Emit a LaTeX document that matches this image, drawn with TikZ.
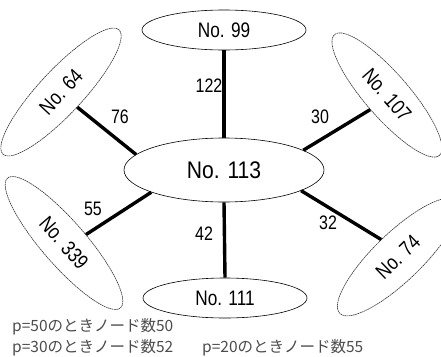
\documentclass[tikz,border=0pt]{standalone}
\usepackage{fontspec}
\usepackage{graphicx}
\setmainfont{Liberation Sans}
\newfontfamily\jpfont{Noto Sans CJK JP}
\usetikzlibrary{shapes.geometric}
\newcommand{\nar}[2][0.82]{\scalebox{#1}[1]{#2}}
\tikzset{
  upright/.style={ellipse, draw=black, line width=0.6pt, inner sep=0pt, font=\fontsize{21}{21}\selectfont},
  tilted/.style={ellipse, draw=black!80, line width=0.6pt, dash pattern=on 1.6pt off 0.6pt, inner sep=0pt,
    minimum height=44pt, font=\fontsize{21}{21}\selectfont},
  link/.style={line width=3.4pt, black},
  wlabel/.style={inner sep=0pt, font=\fontsize{19.5}{19.5}\selectfont},
  note/.style={anchor=base west, inner sep=0pt, text=black!70, font=\jpfont\fontsize{15.5}{15.5}\selectfont}
}
\begin{document}
\begin{tikzpicture}[x=1pt,y=-1pt]
\useasboundingbox (0,0) rectangle (441,356);
\fill[white] (0,0) rectangle (441,356);
% nodes
\node[upright, minimum width=200pt, minimum height=64pt, font=\fontsize{24}{24}\selectfont] (c) at (224,170) {\nar[0.88]{No. 113}};
\node[upright, minimum width=164pt, minimum height=40pt] (n99) at (224,30) {\nar{No. 99}};
\node[upright, minimum width=164pt, minimum height=40pt] (n111) at (225,298) {\nar{No. 111}};
\node[tilted, minimum width=170pt, rotate=47] (n64) at (61,92) {\nar{No. 64}};
\node[tilted, minimum width=160pt, rotate=-49] (n107) at (387,95) {\nar{No. 107}};
\node[tilted, minimum width=172pt, rotate=-49] (n339) at (64,243) {\nar{No. 339}};
\node[tilted, minimum width=162pt, minimum height=48pt, rotate=44] (n74) at (398,257) {\nar{No. 74}};
% connectors
\draw[link] (n99.south) -- (c.north);
\draw[link] (c.south) -- (n111.north);
\draw[link] (n64.south) -- (c.170);
\draw[link] (n107.south) -- (c.14);
\draw[link] (n339.70) -- (c.197);
\draw[link] (n74.north) -- (c.-15);
% weights
\node[wlabel] (w122) at (209,86) {\nar{122}};
\node[wlabel] (w76) at (120,117) {\nar{76}};
\node[wlabel] (w30) at (320,117) {\nar{30}};
\node[wlabel] (w55) at (93,209) {\nar{55}};
\node[wlabel] (w42) at (204,234) {\nar{42}};
\node[wlabel] (w32) at (328,223) {\nar{32}};
% notes
\node[note] (t1) at (12,331.5) {p=50のときノード数50};
\node[note] (t2) at (12,352) {p=30のときノード数52};
\node[note] (t3) at (202,352) {p=20のときノード数55};
\end{tikzpicture}
\end{document}
